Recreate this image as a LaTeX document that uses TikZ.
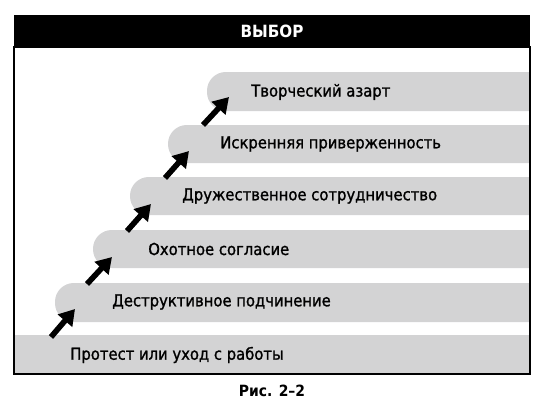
\documentclass[tikz,border=0pt]{standalone}
\usepackage{fontspec}
\setmainfont{DejaVu Sans Condensed}
\newfontfamily\stepfont[FakeBold=1.2]{DejaVu Sans Condensed}
\usetikzlibrary{arrows.meta}
\definecolor{stepgray}{RGB}{211,211,212}
\tikzset{
  stepbar/.style={fill=stepgray, rounded corners=0.47cm},
  steptext/.style={anchor=west, inner sep=0pt, font=\stepfont\fontsize{11.7}{13}\selectfont},
  upstep/.style={line width=4pt, -{Triangle[width=13pt,length=11pt]}}
}

\begin{document}
\begin{tikzpicture}[x=0.025cm, y=-0.025cm]
    \useasboundingbox (0,0) rectangle (544,416);
    % header
    \fill (14,15) rectangle (530,47);
    \node[text=white, font=\bfseries\fontsize{12}{14}\selectfont] (title) at (272,31) {ВЫБОР};

    % steps, from the bottom up
    \fill[stepgray] (14,335) rectangle (530,374);
    \fill[stepbar] (530,283) -- (55,283) -- (55,322) [sharp corners] -- (530,322) -- cycle;
    \fill[stepbar] (530,230) -- (93,230) -- (93,268) [sharp corners] -- (530,268) -- cycle;
    \fill[stepbar] (530,177) -- (130,177) -- (130,215) [sharp corners] -- (530,215) -- cycle;
    \fill[stepbar] (530,125) -- (168,125) -- (168,163) [sharp corners] -- (530,163) -- cycle;
    \fill[stepbar] (530,72) -- (207,72) -- (207,111) [sharp corners] -- (530,111) -- cycle;

    \node[steptext] (protest)  at (70,355)  {Протест или уход с работы};
    \node[steptext] (destr)    at (112,302) {Деструктивное подчинение};
    \node[steptext] (soglasie) at (148,249) {Охотное согласие};
    \node[steptext] (sotrud)   at (182,196) {Дружественное сотрудничество};
    \node[steptext] (priver)   at (220,144) {Искренняя приверженность};
    \node[steptext] (azart)    at (251,92)  {Творческий азарт};

    % arrows between the steps
    \coordinate (a1) at (51,337);  \coordinate (b1) at (75,309);
    \coordinate (a2) at (87,284);  \coordinate (b2) at (112,257);
    \coordinate (a3) at (127,231); \coordinate (b3) at (151,204);
    \coordinate (a4) at (165,178); \coordinate (b4) at (189,151);
    \coordinate (a5) at (203,125); \coordinate (b5) at (229,97);
    \draw[upstep] (a1) -- (b1);
    \draw[upstep] (a2) -- (b2);
    \draw[upstep] (a3) -- (b3);
    \draw[upstep] (a4) -- (b4);
    \draw[upstep] (a5) -- (b5);

    \draw[line width=0.9pt] (14,47) rectangle (530,374);
    \node[font=\bfseries\fontsize{11}{13}\selectfont] (caption) at (272,391) {Рис. 2–2};
\end{tikzpicture}
\end{document}
